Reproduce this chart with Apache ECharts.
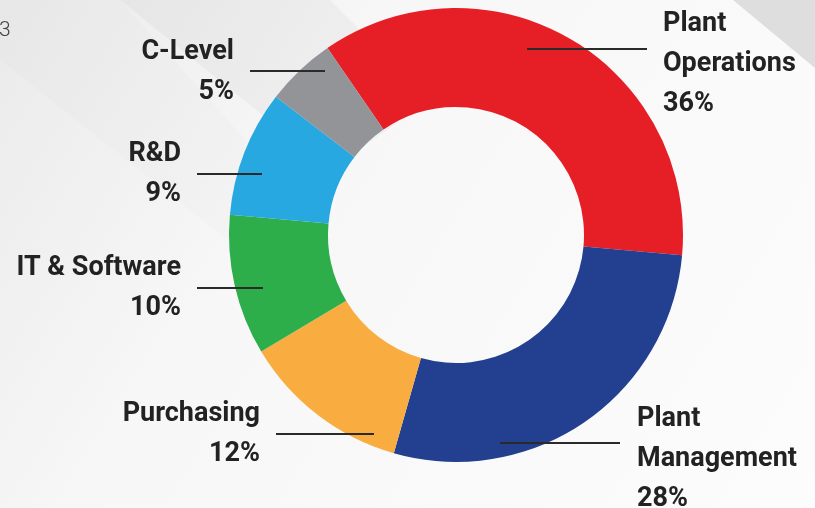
<!DOCTYPE html>
<html>
<head>
<meta charset="utf-8">
<script src="https://cdn.jsdelivr.net/npm/echarts@6/dist/echarts.min.js"></script>
<style>
html,body{margin:0;padding:0;}
#chart{width:815px;height:508px;}
</style>
</head>
<body>
<div id="chart"></div>
<script>
var categories = ['Plant\nOperations', 'Plant\nManagement', 'Purchasing', 'IT & Software', 'R&D', 'C-Level'];
var shares = [36, 28, 12, 10, 9, 5];
var sliceColors = ['#E61F27', '#233F8F', '#F9AD40', '#2DAE4A', '#28A8E0', '#929497'];

// label placement (layout only): line start/end, text anchor
var labelSpots = [
  {line: [[527, 49], [647, 49]], x: 663, y: 64, align: 'left'},
  {line: [[500, 443], [620, 443]], x: 637, y: 459, align: 'left'},
  {line: [[374, 434], [276, 434]], x: 260, y: 434, align: 'right'},
  {line: [[263, 288], [197, 288]], x: 181, y: 288, align: 'right'},
  {line: [[262, 174], [197, 174]], x: 181, y: 174, align: 'right'},
  {line: [[325, 71], [250, 71]], x: 234, y: 72, align: 'right'}
];

var pieBase = {
  type: 'pie',
  center: [456, 235],
  radius: [128, 227],
  startAngle: 124.5,
  clockwise: true,
  avoidLabelOverlap: false,
  silent: true,
  emphasis: {scale: false}
};

var chart = echarts.init(document.getElementById('chart'));
var option = {
  backgroundColor: {
    type: 'linear', x: 0, y: 0, x2: 1, y2: 1,
    colorStops: [{offset: 0, color: '#eaeaea'}, {offset: 0.35, color: '#f7f7f7'}, {offset: 1, color: '#fcfcfc'}]
  },
  animation: false,
  title: {
    text: '3',
    left: -6,
    top: 15,
    textStyle: {fontSize: 21, fontWeight: 300, fontFamily: 'Roboto', color: '#444'}
  },
  graphic: [
    {type: 'polygon', z: -10, silent: true, shape: {points: [[120, 0], [330, 0], [430, 100], [330, 170]]}, style: {fill: 'rgba(0,0,0,0.03)'}},
    {type: 'polygon', z: -10, silent: true, shape: {points: [[0, 60], [0, 0], [120, 0], [300, 200], [240, 250]]}, style: {fill: 'rgba(0,0,0,0.012)'}},
    {type: 'polygon', z: -10, silent: true, shape: {points: [[733, 0], [815, 0], [815, 68]]}, style: {fill: '#dedede'}}
  ],
  series: [
    Object.assign({}, pieBase, {
      z: 2,
      label: {show: false},
      labelLine: {show: false},
      data: categories.map(function (c, i) {
        return {name: c, value: shares[i], itemStyle: {color: sliceColors[i]}};
      })
    }),
    Object.assign({}, pieBase, {
      z: 5,
      data: categories.map(function (c, i) {
        return {name: c, value: shares[i], itemStyle: {color: 'rgba(0,0,0,0)'}};
      }),
      label: {
        show: true,
        position: 'outside',
        formatter: '{b}\n{c}%',
        fontFamily: 'Roboto',
        fontWeight: 'bold',
        fontSize: 27,
        lineHeight: 40,
        color: '#222222'
      },
      labelLine: {
        show: true,
        lineStyle: {color: '#2a2a2a', width: 2}
      },
      labelLayout: function (params) {
        var s = labelSpots[params.dataIndex];
        return {
          x: s.x,
          y: s.y,
          align: s.align,
          verticalAlign: 'middle',
          labelLinePoints: [s.line[0], s.line[1], s.line[1]]
        };
      }
    })
  ]
};
chart.setOption(option);
</script>
</body>
</html>
